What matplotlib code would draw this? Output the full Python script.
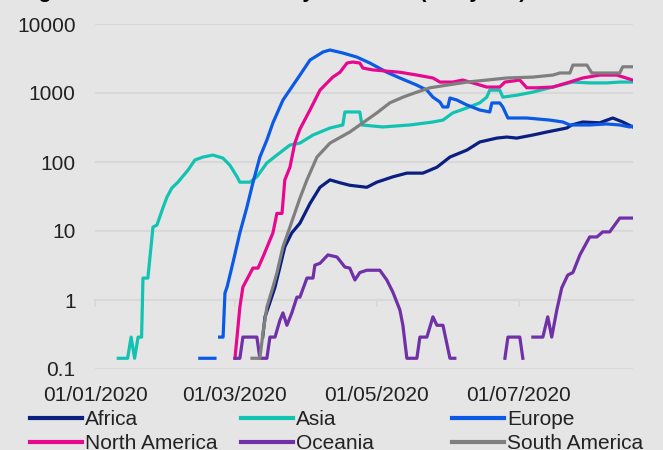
import matplotlib
matplotlib.use("Agg")
import matplotlib.pyplot as plt
import matplotlib.dates as mdates
import numpy as np
import pandas as pd

nan = np.nan
START = pd.Timestamp("2020-01-01")

# days since 01/01/2020 and 7-day average deaths (nan = zero, not drawn on log axis)
africa_days = [72, 73, 75, 77.3, 79.4, 81.5, 84.5, 88, 92.3, 96.6, 100.9, 105.2, 109.4, 116.7, 121,
               127.9, 133.9, 140.8, 146.8, 152.4, 159.7, 165.2, 172.5, 176.8, 181.1, 188, 194,
               202.6, 204.7, 209.4, 216.7, 222.3, 226.6, 230.9]
africa_vals = [0.29, 0.57, 0.9, 1.54, 3.0, 5.9, 9.4, 13, 25, 43, 55, 50, 46, 43, 51,
               61, 69, 69, 84, 118, 149, 195, 222, 230, 222, 246, 272,
               311, 344, 380, 370, 434, 380, 322]

asia_days = [10, 14, 15.5, 17, 18.5, 20, 20.6, 22.7, 24.9, 26.6, 28.8, 30.9, 33, 35.6, 39.9,
             42.9, 46.4, 50.6, 54.9, 57.9, 61, 62.2, 66.5, 69.5, 73.8, 78.1, 83.7, 88, 93.6,
             100.9, 106.4, 107.3, 113.7, 114.6, 123.6, 135.2, 145.1, 149.4, 153.6, 159.7,
             165.2, 168.2, 169.5, 173.8, 175.1, 181.1, 188, 196.6, 205, 212.4, 219.7, 225.3, 230.9]
asia_vals = [0.143, 0.143, 0.29, 0.143, 0.29, 0.29, 2.08, 2.08, 11.4, 12.2, 20, 31, 42, 51, 76,
             107, 118, 126, 114, 90, 61, 51, 51, 61, 97, 126, 176, 188, 246,
             311, 344, 531, 531, 344, 322, 344, 380, 405, 514, 608,
             720, 870, 1100, 1100, 870, 930, 1030, 1220, 1440, 1400, 1400, 1440, 1440]

europe_days = [45, 51.5, 52.5, 53.5, 55, 55.8, 56.7, 59.2, 62.2, 65.2, 67.8, 70.8, 73.8, 76.4,
               80.7, 88, 92.3, 97.9, 100.9, 106.4, 112.4, 118, 125.3, 130.9, 138.2, 142.5,
               145.1, 148.1, 149.4, 151.5, 152.4, 155.4, 159.7, 165.2, 169.5, 170.4, 173.8,
               175.1, 177.3, 185.4, 195.3, 200.9, 203.9, 212.4, 219.7, 225.3, 229.6, 230.9]
europe_vals = [0.143, 0.143, nan, 0.29, 0.29, 1.26, 1.54, 3.44, 9.4, 22, 50, 118, 208, 370,
               790, 1820, 3000, 3930, 4200, 3800, 3320, 2720, 2000, 1650, 1300, 1100,
               870, 740, 627, 627, 846, 790, 670, 567, 531, 717, 717,
               627, 434, 434, 405, 380, 344, 344, 356, 344, 322, 330]

namerica_days = [60.1, 61.4, 62.2, 63.5, 67.8, 70, 72.1, 76.4, 78.1, 80.3, 81.5, 83.7, 85.8, 88,
                 92.3, 96.6, 102.1, 105.2, 108.2, 110.7, 113.7, 115, 119.3, 130.9, 138.2, 145.1,
                 148.1, 153.6, 157.9, 162.2, 168.2, 173.8, 176, 182.4, 185.4, 189.7, 196.6,
                 202.6, 209.4, 216.7, 224, 230.9]
namerica_vals = [0.143, 0.41, 0.79, 1.54, 2.9, 2.9, 4.2, 9.4, 18, 18, 55, 84, 188, 300,
                 567, 1100, 1700, 2000, 2720, 2810, 2720, 2300, 2160, 2000, 1820, 1650,
                 1440, 1440, 1540, 1400, 1220, 1220, 1440, 1540, 1190, 1190, 1220,
                 1400, 1650, 1820, 1820, 1540]

oceania_days = [60.1, 62.2, 63.5, 69.5, 70.8, 73.8, 75.1, 77.3, 79.4, 80.7, 82.4, 84.5, 86.7, 88,
                91, 93.6, 94.4, 96.6, 100, 103.9, 107.3, 109.4, 111.6, 113.7, 116.7, 122.3,
                125.3, 127.9, 130.9, 132.2, 133.9, 138.2, 139.5, 142.5, 145.1, 146.8, 149.4,
                152.4, 154.5, 165, 176, 177.3, 182.4, 183.7, 185.8, 188, 192.3, 194.4, 196.1,
                198.3, 200.4, 203, 205.2, 208.2, 212.4, 215.5, 218, 221, 225.3, 228.3, 230.9]
oceania_vals = [0.143, 0.143, 0.29, 0.29, 0.143, 0.143, 0.29, 0.29, 0.51, 0.65, 0.43, 0.65, 1.1, 1.1,
                2.08, 2.08, 3.2, 3.4, 4.5, 4.2, 3.0, 2.9, 1.95, 2.5, 2.7, 2.7,
                1.95, 1.3, 0.72, 0.43, 0.143, 0.143, 0.29, 0.29, 0.57, 0.43, 0.43,
                0.143, 0.143, nan, 0.143, 0.29, 0.29, 0.143, nan, 0.29, 0.29, 0.57, 0.29,
                0.72, 1.5, 2.3, 2.5, 4.5, 8.2, 8.2, 9.7, 9.7, 15.4, 15.4, 15.4]

samerica_days = [67.4, 70.8, 72.1, 73.8, 76.4, 78.1, 80.7, 83.7, 88, 91, 95.3, 100.9, 109.4, 115,
                 121, 126.6, 132.2, 138.2, 143.8, 151.1, 159.7, 168.2, 176.8, 188, 196.6, 199.6,
                 203.9, 205.2, 211.2, 213.3, 225.3, 226.6, 230.9]
samerica_vals = [0.143, 0.143, 0.33, 0.79, 1.54, 2.46, 5.9, 11.4, 30, 55, 118, 188, 272, 370,
                 514, 720, 870, 1030, 1190, 1300, 1440, 1540, 1650, 1700, 1820, 1950,
                 1950, 2540, 2540, 1950, 1950, 2400, 2400]

series = [
    ("Africa", africa_days, africa_vals, "#0a1f80"),
    ("Asia", asia_days, asia_vals, "#12c3b2"),
    ("Europe", europe_days, europe_vals, "#0a5ae6"),
    ("North America", namerica_days, namerica_vals, "#e8078f"),
    ("Oceania", oceania_days, oceania_vals, "#7030a8"),
    ("South America", samerica_days, samerica_vals, "#7f7f7f"),
]

y_ticks = [0.1, 1, 10, 100, 1000, 10000]
y_labels = ["0.1", "1", "10", "100", "1000", "10000"]
x_ticks = ["2020-01-01", "2020-03-01", "2020-05-01", "2020-07-01"]

BG = "#e5e5e5"
GRID = "#d8d8d8"

plt.rcParams["font.family"] = ["Liberation Sans", "DejaVu Sans"]

fig = plt.figure(figsize=(6.63, 4.5), dpi=100, facecolor=BG)
ax = fig.add_axes([95 / 663, 1 - 369 / 450, 538 / 663, 345 / 450])
ax.set_facecolor(BG)

handles = []
for name, days, vals, color in series:
    x = START + pd.to_timedelta(days, unit="D")
    (line,) = ax.plot(x, vals, color=color, lw=2.3, label=name, solid_joinstyle="round")
    handles.append(line)

ax.set_yscale("log")
ax.set_ylim(0.1, 10000)
ax.set_yticks(y_ticks)
ax.set_yticklabels(y_labels)
ax.yaxis.set_minor_locator(matplotlib.ticker.NullLocator())
ax.set_xlim(START, START + pd.Timedelta(days=231))
tick_dates = pd.to_datetime(x_ticks)
ax.set_xticks(tick_dates)
ax.xaxis.set_major_formatter(mdates.DateFormatter("%d/%m/%Y"))

ax.grid(axis="y", color=GRID, lw=1.5)
ax.set_axisbelow(True)
for s in ax.spines.values():
    s.set_visible(False)
ax.tick_params(axis="both", length=0, labelsize=15, colors="#222222")
ax.tick_params(axis="y", pad=14)
ax.tick_params(axis="x", pad=12)

# horizontal axis crosses at 1 (small tick marks on that gridline)
sec = ax.secondary_xaxis(0.2)
sec.set_xticks(mdates.date2num(tick_dates))
sec.tick_params(length=5, width=1.2, color=GRID, labelbottom=False)
sec.spines["bottom"].set_color(GRID)
sec.spines["bottom"].set_linewidth(1.5)

# title is cut off by the top edge in the reference, only its descenders show
fig.text(20 / 663, 1 + 2 / 450, "Figure 3: COVID-19 deaths by continent (7-day MA)",
         fontsize=15, fontweight="bold", va="baseline", ha="left")

# legend: three columns, two rows
col_x = [30, 241, 452]
for i, cx in enumerate(col_x):
    leg = fig.legend(handles=[handles[i], handles[i + 3]], loc="upper left",
                     bbox_to_anchor=(cx / 663, 1 - 410 / 450), frameon=False,
                     fontsize=15, handlelength=2.5, handletextpad=0.15,
                     labelspacing=0.25, borderpad=0, borderaxespad=0)
    for t in leg.get_texts():
        t.set_color("#222222")
    for h in leg.get_lines():
        h.set_linewidth(3)

fig.savefig("out.png", dpi=100, facecolor=BG)
